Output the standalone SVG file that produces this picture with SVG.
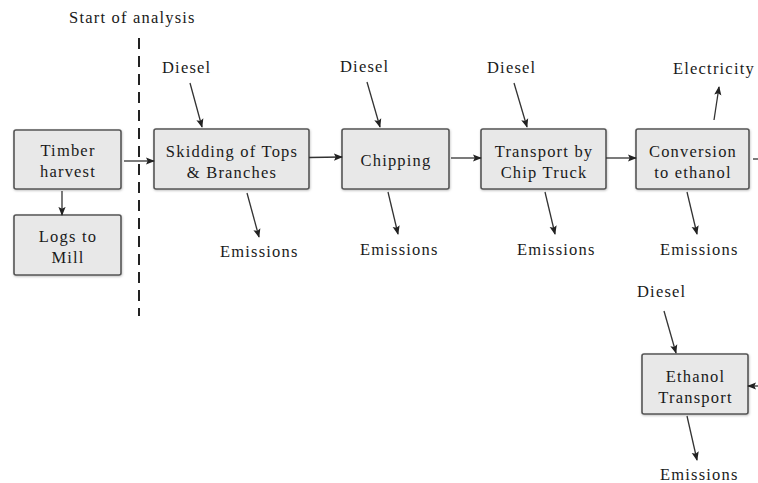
<svg xmlns="http://www.w3.org/2000/svg" width="758" height="483" viewBox="0 0 758 483">
<style>
.box{fill:#e8e8e8;stroke:#555;stroke-width:1.6}
.t{font-family:"Liberation Serif","Times New Roman",serif;font-size:16.5px;letter-spacing:1.2px;fill:#1a1a1a}
.c{text-anchor:middle}
.ln{stroke:#333;stroke-width:1.3;fill:none;marker-end:url(#ah)}
.dash{stroke:#222;stroke-width:2;stroke-dasharray:11 7;fill:none}
</style>
<defs>
<marker id="ah" viewBox="0 0 10 10" refX="9" refY="5" markerWidth="9" markerHeight="9" markerUnits="userSpaceOnUse" orient="auto">
<path d="M0,1 L10,5 L0,9 L2,5 z" fill="#222"/>
</marker>
<filter id="sh" x="-10%" y="-10%" width="130%" height="130%">
<feDropShadow dx="0.5" dy="1" stdDeviation="1.2" flood-color="#000" flood-opacity="0.25"/>
</filter>
</defs>

<text class="t" x="69" y="23">Start of analysis</text>
<path class="dash" d="M139,38 V316"/>

<g id="timber"><rect class="box" filter="url(#sh)" x="14" y="130" width="107" height="59" rx="2"/>
<text class="t c" x="68" y="156">Timber</text><text class="t c" x="68" y="177">harvest</text></g>
<g id="logs"><rect class="box" filter="url(#sh)" x="14" y="215" width="107" height="60" rx="2"/>
<text class="t c" x="68" y="242">Logs to</text><text class="t c" x="68" y="263">Mill</text></g>
<g id="skidding"><rect class="box" filter="url(#sh)" x="154" y="129" width="155" height="60" rx="2"/>
<text class="t c" x="232" y="157">Skidding of Tops</text><text class="t c" x="232" y="178">&amp; Branches</text></g>
<g id="chipping"><rect class="box" filter="url(#sh)" x="342" y="129" width="107" height="60" rx="2"/>
<text class="t c" x="396" y="166">Chipping</text></g>
<g id="transport"><rect class="box" filter="url(#sh)" x="481" y="129" width="125" height="60" rx="2"/>
<text class="t c" x="544" y="157">Transport by</text><text class="t c" x="544" y="178">Chip Truck</text></g>
<g id="conversion"><rect class="box" filter="url(#sh)" x="636" y="129" width="113" height="60" rx="2"/>
<text class="t c" x="693" y="157">Conversion</text><text class="t c" x="693" y="178">to ethanol</text></g>
<g id="ethanol"><rect class="box" filter="url(#sh)" x="642" y="354" width="106" height="60" rx="2"/>
<text class="t c" x="695.5" y="382">Ethanol</text><text class="t c" x="695.5" y="403">Transport</text></g>

<g id="labels">
<text class="t" x="162" y="73">Diesel</text>
<text class="t" x="340" y="72">Diesel</text>
<text class="t" x="487" y="73">Diesel</text>
<text class="t" x="673" y="74">Electricity</text>
<text class="t" x="637" y="297">Diesel</text>
<text class="t" x="220" y="257">Emissions</text>
<text class="t" x="360" y="255">Emissions</text>
<text class="t" x="517" y="255">Emissions</text>
<text class="t" x="660" y="255">Emissions</text>
<text class="t" x="660" y="480">Emissions</text>
</g>

<g id="connectors">
<path class="ln" d="M124,161 H154"/>
<path class="ln" d="M62,191 V215"/>
<path class="ln" d="M309,157.5 L342,157"/>
<path class="ln" d="M451,158 H481"/>
<path class="ln" d="M606,158 H636"/>
<path d="M753,159 H758" stroke="#333" stroke-width="1.3"/>
<path class="ln" d="M758,386 H748"/>
<path class="ln" d="M190,83 L202,127"/>
<path class="ln" d="M367,82 L380,127"/>
<path class="ln" d="M514,83 L527,127"/>
<path class="ln" d="M664,311 L676,353"/>
<path class="ln" d="M714,120 L719,87"/>
<path class="ln" d="M247,193 L259,237"/>
<path class="ln" d="M388,192 L398,234"/>
<path class="ln" d="M545,192 L555,234"/>
<path class="ln" d="M687,192 L697,234"/>
<path class="ln" d="M687,416 L697,460"/>
</g>
</svg>
